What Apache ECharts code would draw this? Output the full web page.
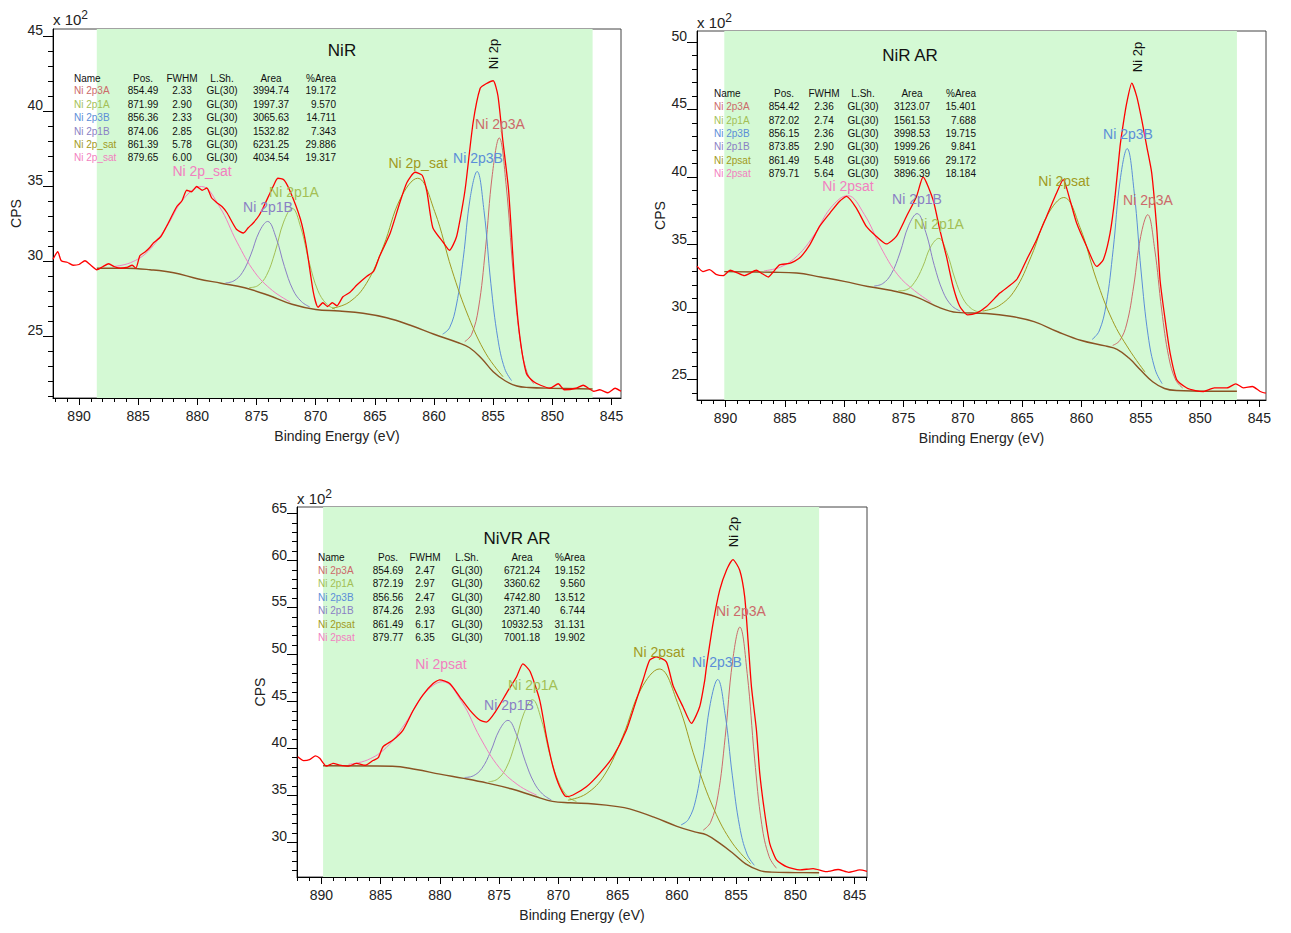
<!DOCTYPE html>
<html><head><meta charset="utf-8">
<script src="https://cdn.jsdelivr.net/npm/echarts@6/dist/echarts.min.js"></script>
<style>html,body{margin:0;padding:0;background:#fff}#c{width:1291px;height:933px}</style>
</head><body><div id="c"></div>
<script>
// ---------------- DATA ----------------
const xTickLabels = [845, 850, 855, 860, 865, 870, 875, 880, 885, 890];
const p1XRange = [844.2, 892.2], p1YRange = [20.85, 45.45], p1YTicks = [25, 30, 35, 40, 45];
const p2XRange = [844.45, 892.4], p2YRange = [23.5, 50.8], p2YTicks = [25, 30, 35, 40, 45, 50];
const p3XRange = [843.96, 892.06], p3YRange = [26.3, 65.7], p3YTicks = [30, 35, 40, 45, 50, 55, 60, 65];
const p1Region = [888.5, 846.6], p2Region = [890.1, 846.9], p3Region = [889.86, 848.0];
const titles = ['NiR', 'NiR AR', 'NiVR AR'];

const compNames1 = ['Ni 2p3A', 'Ni 2p1A', 'Ni 2p3B', 'Ni 2p1B', 'Ni 2p_sat', 'Ni 2p_sat'];
const compNames = ['Ni 2p3A', 'Ni 2p1A', 'Ni 2p3B', 'Ni 2p1B', 'Ni 2psat', 'Ni 2psat'];
const p1Pos = [854.49, 871.99, 856.36, 874.06, 861.39, 879.65];
const p1Fwhm = [2.33, 2.90, 2.33, 2.85, 5.78, 6.00];
const p1Area = [3994.74, 1997.37, 3065.63, 1532.82, 6231.25, 4034.54];
const p1Pct = [19.172, 9.570, 14.711, 7.343, 29.886, 19.317];
const p2Pos = [854.42, 872.02, 856.15, 873.85, 861.49, 879.71];
const p2Fwhm = [2.36, 2.74, 2.36, 2.90, 5.48, 5.64];
const p2Area = [3123.07, 1561.53, 3998.53, 1999.26, 5919.66, 3896.39];
const p2Pct = [15.401, 7.688, 19.715, 9.841, 29.172, 18.184];
const p3Pos = [854.69, 872.19, 856.56, 874.26, 861.49, 879.77];
const p3Fwhm = [2.47, 2.97, 2.47, 2.93, 6.17, 6.35];
const p3Area = [6721.24, 3360.62, 4742.80, 2371.40, 10932.53, 7001.18];
const p3Pct = [19.152, 9.560, 13.512, 6.744, 31.131, 19.902];
const lineShape = 'GL(30)';

// measured spectra (binding energy, counts x100)
const p1Data = [[892.2,30.1],[891.8,30.6],[891.5,30.0],[891.0,29.9],[890.5,29.7],[890,29.75],[889.5,30.0],[889,29.7],[888.5,29.4],[888,29.6],[887.5,29.8],[887,29.6],[886.5,29.5],[886,29.55],[885.5,29.7],[885.2,29.5],[884.85,30.35],[884.4,30.6],[884,30.9],[883.7,31.2],[883.1,31.6],[882.6,32.3],[881.75,33.6],[881.3,34.0],[880.9,34.7],[880.5,34.6],[880.06,34.95],[879.6,34.7],[879.2,34.85],[878.8,34.2],[878.4,33.9],[877.9,33.6],[877.5,33.2],[876.7,32.1],[876.1,31.85],[875.7,32.2],[875.3,32.5],[874.8,33.0],[874.4,33.6],[873.6,34.95],[873.2,35.5],[872.7,35.4],[872.2,34.7],[871.3,32.8],[870.8,31.0],[870.2,27.9],[869.8,26.9],[869.4,27.2],[869,26.95],[868.6,27.2],[868.2,27.0],[867.7,27.6],[867.1,27.9],[866.5,28.4],[865.7,28.95],[865.1,29.3],[864.6,30.3],[863.7,31.85],[862.9,33.85],[862.3,35.2],[861.6,35.9],[861,35.7],[860.6,34.6],[860.1,32.2],[859.2,31.2],[858.7,30.7],[858.1,31.6],[857.5,34.1],[857.3,35.2],[856.7,39.2],[856.1,41.5],[855.6,41.8],[855.0,42.0],[854.6,41.0],[854.2,38.1],[853.7,34.7],[853.2,28.7],[852.75,24.95],[852.2,22.5],[851.6,21.95],[851.0,21.7],[850.2,21.5],[849.5,21.8],[849,21.4],[848,21.5],[847.4,21.7],[846.5,21.3],[846,21.4],[845.3,21.2],[844.7,21.5],[844.2,21.3]];
const p2Data = [[892.4,33.4],[891.9,33.0],[891.35,33.14],[890.8,32.8],[890.2,32.7],[889.6,33.1],[889,32.9],[888.4,32.7],[888,32.85],[887.4,33.1],[887,32.9],[886.4,32.6],[886,32.95],[885.44,33.5],[884.6,33.6],[883.76,34.0],[882.9,34.98],[882.07,36.34],[881.2,37.33],[880.4,38.19],[879.8,38.56],[878.97,37.7],[878.13,36.34],[877.28,35.6],[876.44,35.05],[875.6,35.6],[874.75,37.08],[873.9,38.56],[873.35,40.0],[872.5,38.3],[871.94,36.1],[871.38,34.12],[870.82,31.9],[870.25,30.42],[869.6,29.8],[868.85,29.93],[868.0,30.42],[866.88,31.41],[865.47,32.4],[864.62,33.88],[863.78,35.36],[862.94,37.08],[862.1,38.81],[861.54,39.8],[860.97,38.3],[860.41,36.59],[859.56,34.86],[858.72,33.38],[858.16,33.88],[857.59,35.85],[857.17,38.56],[856.75,42.26],[856.47,43.99],[856.19,45.47],[855.76,46.95],[855.34,45.95],[854.92,44.23],[854.5,42.26],[854.08,40.29],[853.65,36.1],[853.38,32.4],[852.95,29.44],[852.53,26.97],[851.97,25.0],[851.12,24.39],[850.4,24.2],[849.72,24.13],[848.8,24.4],[847.75,24.39],[847.0,24.7],[846.35,24.4],[845.6,24.5],[844.94,24.13],[844.46,24.0]];
const p3Data = [[892.0,39.1],[891.5,38.7],[891,38.8],[890.5,39.2],[890.14,38.94],[889.58,38.1],[889.0,38.4],[888.46,38.22],[887.7,38.1],[887.05,38.4],[886.3,38.2],[885.65,38.7],[885.2,39.0],[884.8,40.17],[883.96,40.88],[883.11,41.95],[882.27,44.0],[881.43,45.7],[880.58,46.9],[880.02,47.3],[879.17,46.9],[878.33,45.49],[877.48,44.07],[876.64,43.01],[876.08,42.8],[875.23,44.07],[874.39,45.85],[873.54,47.6],[873.0,49.0],[872.4,48.2],[871.58,45.14],[871.01,41.23],[870.46,38.04],[869.89,35.91],[869.33,34.85],[868.77,35.03],[867.64,35.91],[866.51,37.34],[865.39,39.11],[864.26,41.95],[863.42,45.14],[862.86,47.27],[862.3,49.39],[861.73,49.74],[860.89,49.21],[860.33,46.7],[859.49,44.43],[858.78,42.66],[858.08,44.43],[857.65,47.27],[857.51,48.68],[856.95,53.3],[856.39,56.84],[855.82,58.97],[855.27,60.1],[854.7,58.97],[854.28,56.13],[854.0,51.52],[853.71,46.55],[853.29,41.95],[853.01,37.34],[852.59,33.09],[852.17,29.89],[851.6,28.12],[850.76,27.4],[849.64,27.05],[848.5,27.2],[847.38,26.87],[846.4,27.1],[845.5,26.8],[844.57,27.05],[843.96,26.9]];

// backgrounds
const p1Bg = [[888.5,29.5],[886,29.5],[884,29.4],[882,29.2],[880,28.8],[878,28.5],[876,28.2],[874,27.7],[872,27.1],[870,26.75],[868,26.65],[866,26.5],[864,26.2],[862,25.7],[860,25.1],[858,24.55],[857,24.2],[856,23.5],[855,22.6],[854,22.0],[853,21.65],[852,21.55],[850,21.5],[846.6,21.45]];
const p2Bg = [[890.1,33.0],[886,32.95],[884,32.9],[882,32.6],[880,32.28],[878,31.9],[876,31.6],[874,31.15],[872,30.35],[870.5,29.98],[868,29.9],[866,29.7],[864,29.3],[862,28.55],[860,27.9],[858,27.5],[857,27.25],[856,26.6],[855,25.7],[854,24.85],[853,24.35],[852,24.2],[849,24.15],[846.9,24.15]];
const p3Bg = [[889.86,38.15],[884,38.1],[882,37.75],[880,37.25],[878,36.8],[876,36.3],[874,35.7],[872,34.9],[870.5,34.35],[869,34.2],[867,34.07],[865,33.8],[864,33.55],[862,32.7],[860,31.7],[858.5,31.1],[857.5,30.78],[856.4,29.9],[855.3,28.85],[854.2,27.7],[853,26.98],[852,26.82],[850,26.77],[848,26.75]];

// fitted components (drawn on top of background), order: 2p3A, 2p1A, 2p3B, 2p1B, sat, sat
const p1C3A = [[851.58,21.81],[852.16,22.59],[852.74,24.8],[853.32,29.3],[853.91,35.07],[854.49,38.19],[855.07,35.76],[855.66,30.73],[856.24,26.85],[856.82,25.1],[857.40,24.61]];
const p1C1A = [[868.37,26.78],[869.09,27.12],[869.82,28.02],[870.54,29.87],[871.27,32.24],[871.99,33.5],[872.71,32.58],[873.44,30.56],[874.16,29.02],[874.89,28.34],[875.62,28.21]];
const p1C3B = [[853.45,22.01],[854.03,22.81],[854.61,24.81],[855.20,28.5],[855.78,33.35],[856.36,35.95],[856.94,34.21],[857.53,30.17],[858.11,27.05],[858.69,25.53],[859.27,25.11]];
const p1C1B = [[870.5,26.92],[871.21,27.28],[871.92,28.06],[872.64,29.61],[873.35,31.54],[874.06,32.62],[874.77,31.93],[875.49,30.39],[876.2,29.21],[876.91,28.66],[877.62,28.52]];
const p1CSat = [[854.17,22.27],[855.61,23.8],[857.06,26.21],[858.5,29.41],[859.95,33.29],[861.39,35.5],[862.84,34.15],[864.28,30.96],[865.73,28.47],[867.17,27.24],[868.62,26.83]];
const p1CSat2 = [[872.15,27.25],[873.65,28.01],[875.15,29.23],[876.65,31.24],[878.15,33.63],[879.65,34.95],[881.15,34.14],[882.65,32.21],[884.15,30.64],[885.65,29.87],[887.15,29.61]];

const p2C3A = [[851.47,24.39],[852.06,24.98],[852.65,26.7],[853.24,30.16],[853.83,34.66],[854.42,37.21],[855.01,35.6],[855.6,31.93],[856.19,29.12],[856.78,27.89],[857.37,27.54]];
const p2C1A = [[868.6,29.99],[869.28,30.26],[869.97,30.98],[870.65,32.44],[871.34,34.39],[872.02,35.46],[872.71,34.83],[873.39,33.33],[874.08,32.19],[874.76,31.65],[875.45,31.57]];
const p2C3B = [[853.2,24.71],[853.79,25.75],[854.38,28.25],[854.97,32.97],[855.56,38.89],[856.15,42.1],[856.74,39.77],[857.33,34.63],[857.92,30.56],[858.51,28.6],[859.1,27.98]];
const p2C1B = [[870.22,30.08],[870.95,30.49],[871.67,31.51],[872.4,33.45],[873.12,35.91],[873.85,37.29],[874.57,36.39],[875.3,34.38],[876.02,32.84],[876.75,32.11],[877.47,31.93]];
const p2CSat = [[854.64,25.56],[856.01,27.27],[857.38,29.37],[858.75,32.44],[860.12,36.26],[861.49,38.48],[862.86,37.19],[864.23,34.14],[865.6,31.64],[866.97,30.46],[868.34,30.08]];
const p2CSat2 = [[872.66,30.72],[874.07,31.59],[875.48,32.76],[876.89,34.76],[878.3,37.23],[879.71,38.62],[881.12,37.73],[882.53,35.71],[883.94,34.17],[885.35,33.34],[886.76,33.06]];

const p3C3A = [[851.6,27.23],[852.22,28.47],[852.84,31.89],[853.45,38.96],[854.07,47.97],[854.69,52.91],[855.31,49.21],[855.93,41.16],[856.54,34.95],[857.16,32.12],[857.78,31.29]];
const p3C1A = [[868.48,34.34],[869.22,34.88],[869.96,36.34],[870.71,39.26],[871.45,43.1],[872.19,45.18],[872.93,43.67],[873.68,40.4],[874.42,37.87],[875.16,36.71],[875.9,36.44]];
const p3C3B = [[853.47,27.55],[854.09,28.75],[854.71,31.69],[855.32,37.07],[855.94,43.72],[856.56,47.33],[857.18,44.78],[857.8,39.08],[858.41,34.53],[859.03,32.43],[859.65,31.85]];
const p3C1B = [[870.6,34.51],[871.33,35.12],[872.06,36.36],[872.8,38.63],[873.53,41.44],[874.26,42.98],[874.99,41.93],[875.73,39.63],[876.46,37.86],[877.19,37.07],[877.92,36.9]];
const p3CSat = [[853.78,27.72],[855.32,29.91],[856.86,33.47],[858.4,38.65],[859.95,44.86],[861.49,48.45],[863.03,46.32],[864.57,41.27],[866.12,37.15],[867.66,35.15],[869.2,34.48]];
const p3CSat2 = [[871.83,35.01],[873.42,36.11],[875.01,37.98],[876.6,41.14],[878.18,45.0],[879.77,47.1],[881.36,45.75],[882.95,42.61],[884.53,40.08],[886.12,38.76],[887.71,38.3]];

// ---------------- STYLE ----------------
const FONT = '"Liberation Sans", Arial, sans-serif';
const GREEN = '#d4f9d4';
const RED = '#ff0000';
const BG_COL = '#8a5424';
const compColors = ['#cc6a6a', '#a3bf55', '#5b8ed8', '#8a7fc4', '#a19a22', '#f27fc0'];

const grids = [
  {left: 53, top: 29, width: 568, height: 369},
  {left: 697, top: 31, width: 569, height: 369},
  {left: 297, top: 507, width: 570, height: 370}
];
const panels = [
  {xr: p1XRange, yr: p1YRange, yt: p1YTicks, region: p1Region, data: p1Data, bg: p1Bg,
   comps: [p1C3A, p1C1A, p1C3B, p1C1B, p1CSat, p1CSat2], names: compNames1,
   pos: p1Pos, fwhm: p1Fwhm, area: p1Area, pct: p1Pct},
  {xr: p2XRange, yr: p2YRange, yt: p2YTicks, region: p2Region, data: p2Data, bg: p2Bg,
   comps: [p2C3A, p2C1A, p2C3B, p2C1B, p2CSat, p2CSat2], names: compNames,
   pos: p2Pos, fwhm: p2Fwhm, area: p2Area, pct: p2Pct},
  {xr: p3XRange, yr: p3YRange, yt: p3YTicks, region: p3Region, data: p3Data, bg: p3Bg,
   comps: [p3C3A, p3C1A, p3C3B, p3C1B, p3CSat, p3CSat2], names: compNames,
   pos: p3Pos, fwhm: p3Fwhm, area: p3Area, pct: p3Pct}
];

function intsBetween(a, b) {
  const lo = Math.ceil(Math.min(a, b)), hi = Math.floor(Math.max(a, b));
  const out = [];
  for (let v = lo; v <= hi; v++) out.push(v);
  return out;
}

const xAxis = [], yAxis = [], series = [];
panels.forEach((p, i) => {
  const xMinor = intsBetween(p.xr[0], p.xr[1]);
  const yMinor = intsBetween(p.yr[0], p.yr[1]);
  xAxis.push({
    type: 'value', gridIndex: i, min: p.xr[0], max: p.xr[1], inverse: true, position: 'bottom',
    axisLine: {show: true, onZero: false, lineStyle: {color: '#000', width: 1}},
    axisTick: {show: true, customValues: xTickLabels, length: 7, lineStyle: {color: '#000'}},
    axisLabel: {customValues: xTickLabels, color: '#222', fontSize: 14, fontFamily: FONT, margin: 11},
    splitLine: {show: false},
    name: 'Binding Energy (eV)', nameLocation: 'middle', nameGap: 31,
    nameTextStyle: {fontSize: 14, color: '#222', fontFamily: FONT}
  });
  xAxis.push({
    type: 'value', gridIndex: i, min: p.xr[0], max: p.xr[1], inverse: true, position: 'bottom',
    axisLine: {show: false},
    axisTick: {show: true, customValues: xMinor, length: 4, lineStyle: {color: '#000'}},
    axisLabel: {show: false}, splitLine: {show: false}
  });
  yAxis.push({
    type: 'value', gridIndex: i, min: p.yr[0], max: p.yr[1], position: 'left',
    axisLine: {show: true, onZero: false, lineStyle: {color: '#000', width: 1}},
    axisTick: {show: true, customValues: p.yt, length: 10, lineStyle: {color: '#000'}},
    axisLabel: {customValues: p.yt, color: '#222', fontSize: 14, fontFamily: FONT, margin: 10,
                verticalAlign: 'bottom', lineHeight: 12},
    splitLine: {show: false},
    name: 'CPS', nameLocation: 'middle', nameGap: 30,
    nameTextStyle: {fontSize: 14, color: '#222', fontFamily: FONT}
  });
  yAxis.push({
    type: 'value', gridIndex: i, min: p.yr[0], max: p.yr[1], position: 'left',
    axisLine: {show: false},
    axisTick: {show: true, customValues: yMinor, length: 5, lineStyle: {color: '#000'}},
    axisLabel: {show: false}, splitLine: {show: false}
  });
  const xi = i * 2, yi = i * 2;
  // quantification region (green band)
  series.push({
    type: 'line', xAxisIndex: xi, yAxisIndex: yi, z: 1, silent: true,
    data: [[p.region[0], p.yr[0]], [p.region[1], p.yr[0]]],
    showSymbol: false, lineStyle: {width: 0, opacity: 0},
    markArea: {silent: true, itemStyle: {color: GREEN, opacity: 1},
               data: [[{xAxis: p.region[0]}, {xAxis: p.region[1]}]]}
  });
  // background
  series.push({
    type: 'line', xAxisIndex: xi, yAxisIndex: yi, z: 3, data: p.bg, smooth: 0.4,
    showSymbol: false, lineStyle: {color: BG_COL, width: 1.4}
  });
  // components
  p.comps.forEach((c, k) => {
    series.push({
      type: 'line', xAxisIndex: xi, yAxisIndex: yi, z: 4, data: c, smooth: 0.4,
      showSymbol: false, lineStyle: {color: compColors[k], width: 1}
    });
  });
  // measured data
  series.push({
    type: 'line', xAxisIndex: xi, yAxisIndex: yi, z: 6, data: p.data, smooth: 0.2,
    showSymbol: false, lineStyle: {color: RED, width: 1.3}
  });
});

// ---------------- TEXT (graphic) ----------------
const graphic = [];
function txt(x, y, s, o) {
  o = o || {};
  graphic.push({
    type: 'text', x: x, y: y, rotation: o.rot || 0, z: 100,
    style: {text: s, fill: o.color || '#111', font: (o.weight || 'normal') + ' ' + (o.size || 14) + 'px ' + FONT,
            align: o.align || 'center', verticalAlign: o.va || 'middle'}
  });
}
// power label
[[53, 30], [697, 33], [297, 509]].forEach(([x, y]) => {
  graphic.push({type: 'text', x: x, y: y, z: 100,
    style: {text: '{a|x 10}{s|2}', align: 'left', verticalAlign: 'bottom',
      rich: {a: {fontSize: 15, fontFamily: FONT, fill: '#222'},
             s: {fontSize: 12, fontFamily: FONT, fill: '#222', padding: [0, 0, 9, 0]}}}});
});
// titles
txt(342, 50, titles[0], {size: 17});
txt(910, 55, titles[1], {size: 17});
txt(517, 538, titles[2], {size: 17});
// vertical Ni 2p labels
txt(493, 54, 'Ni 2p', {size: 13, rot: Math.PI / 2});
txt(1137, 57, 'Ni 2p', {size: 13, rot: Math.PI / 2});
txt(733, 532, 'Ni 2p', {size: 13, rot: Math.PI / 2});
// component labels near peaks
const labelSpots = [
  [[500, 124, 0], [294, 192, 1], [478, 158, 2], [268, 207, 3], [418, 163, 4], [202, 171, 5]],
  [[1148, 200, 0], [939, 224, 1], [1128, 134, 2], [917, 199, 3], [1064, 181, 4], [848, 186, 5]],
  [[741, 611, 0], [533, 685, 1], [717, 662, 2], [509, 705, 3], [659, 652, 4], [441, 664, 5]]
];
labelSpots.forEach((arr, pi) => arr.forEach(([x, y, k]) => {
  txt(x, y, panels[pi].names[k], {size: 14, color: compColors[k]});
}));
// quantification tables
const tableLayout = [
  {nameX: 74, posX: 143, fwhmX: 182, lshX: 222, areaX: 271, pctX: 336, headY: 78.5, row0: 90.8, gap: 13.4},
  {nameX: 714, posX: 784, fwhmX: 824, lshX: 863, areaX: 912, pctX: 976, headY: 93.3, row0: 106.7, gap: 13.33},
  {nameX: 318, posX: 388, fwhmX: 425, lshX: 467, areaX: 522, pctX: 585, headY: 557.3, row0: 570, gap: 13.5}
];
tableLayout.forEach((L, pi) => {
  const p = panels[pi];
  const s = 10;
  txt(L.nameX, L.headY, 'Name', {size: s, align: 'left'});
  txt(L.posX, L.headY, 'Pos.', {size: s});
  txt(L.fwhmX, L.headY, 'FWHM', {size: s});
  txt(L.lshX, L.headY, 'L.Sh.', {size: s});
  txt(L.areaX, L.headY, 'Area', {size: s});
  txt(L.pctX, L.headY, '%Area', {size: s, align: 'right'});
  for (let r = 0; r < 6; r++) {
    const y = L.row0 + r * L.gap;
    txt(L.nameX, y, compNames[r] === 'Ni 2psat' && pi === 0 ? 'Ni 2p_sat' : compNames[r], {size: s, align: 'left', color: compColors[r]});
    txt(L.posX, y, p.pos[r].toFixed(2), {size: s});
    txt(L.fwhmX, y, p.fwhm[r].toFixed(2), {size: s});
    txt(L.lshX, y, lineShape, {size: s});
    txt(L.areaX, y, p.area[r].toFixed(2), {size: s});
    txt(L.pctX, y, p.pct[r].toFixed(3), {size: s, align: 'right'});
  }
});

const chart = echarts.init(document.getElementById('c'), null, {renderer: 'svg'});
chart.setOption({
  animation: false,
  backgroundColor: '#fff',
  textStyle: {fontFamily: FONT},
  grid: grids.map(g => Object.assign({show: true, borderColor: '#444', borderWidth: 1, backgroundColor: 'transparent'}, g)),
  xAxis: xAxis, yAxis: yAxis, series: series, graphic: graphic
});
</script>
</body></html>
